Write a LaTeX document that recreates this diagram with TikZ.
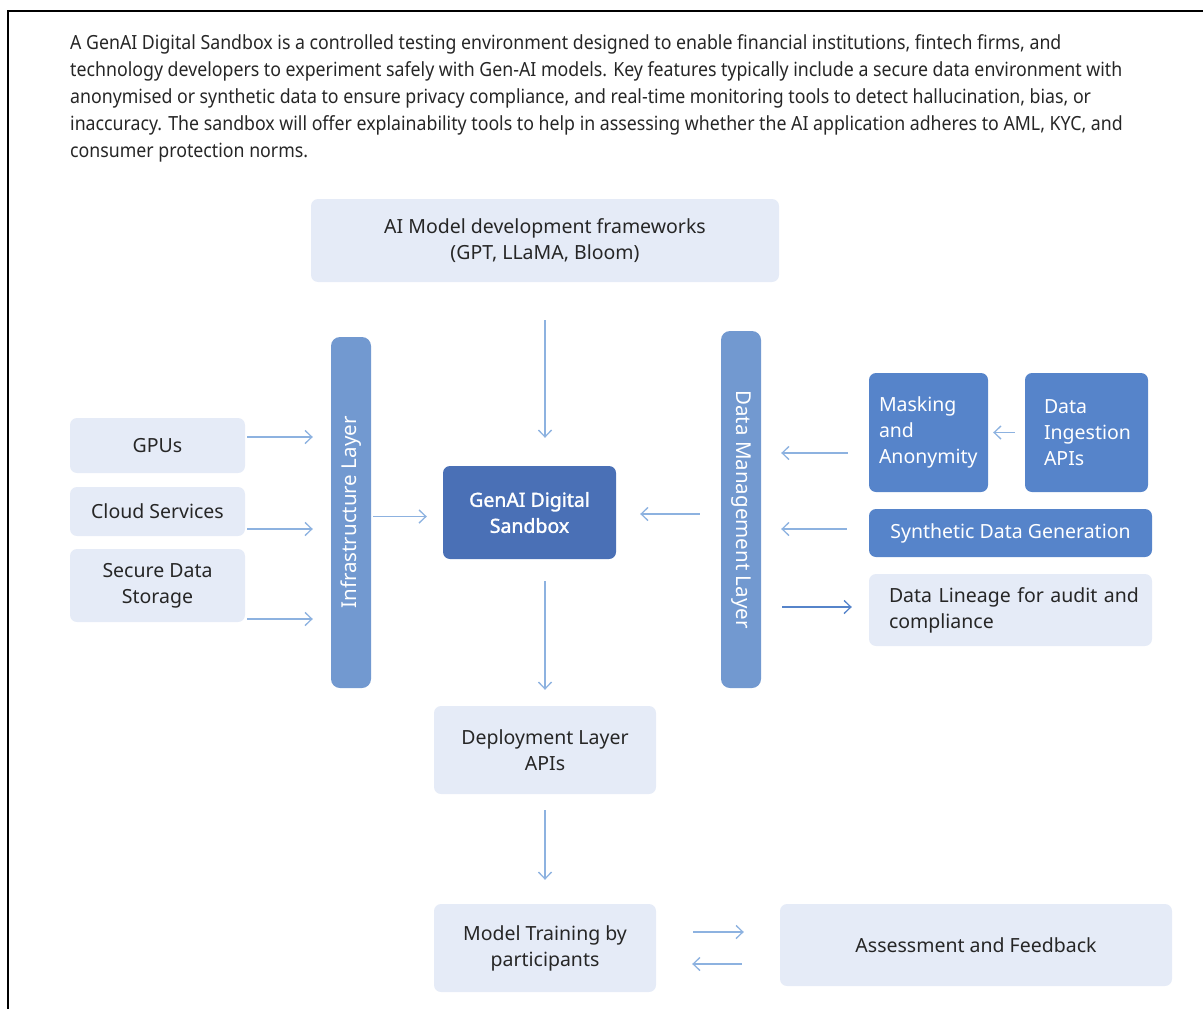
\documentclass[tikz,border=0pt]{standalone}
\usepackage{fontspec}
\setmainfont{Noto Sans}
\newfontfamily\introfont[FakeStretch=0.91]{Noto Sans}
\newfontfamily\corefont[FakeBold=1.6]{Noto Sans}
\usetikzlibrary{arrows.meta, positioning}
\tikzset{>={Straight Barb[length=2.4mm,width=4.6mm]}}

\definecolor{boxfill}{HTML}{E5EBF7}
\definecolor{layerblue}{HTML}{7299D0}
\definecolor{midblue}{HTML}{5684CA}
\definecolor{coreblue}{HTML}{4A70B6}
\definecolor{arrowblue}{HTML}{8DB2E0}
\definecolor{inkgrey}{HTML}{262626}

\begin{document}
\begin{tikzpicture}[
    x = 1pt, y = -1pt,
    every node/.style = {font=\fontsize{19.5}{26}\selectfont, inner sep=0pt},
    lbox/.style  = {fill=boxfill, rounded corners=7pt, align=center, text=inkgrey},
    mbox/.style  = {fill=midblue, rounded corners=7pt, text=white},
    layer/.style = {fill=layerblue, rounded corners=9pt, minimum width=40pt},
    layertext/.style = {text=white, font=\fontsize{20.5}{26}\selectfont},
    arr/.style   = {->, draw=arrowblue, line width=1.3pt}
  ]
  \useasboundingbox (0,0) rectangle (1203,1009);
  \draw[line width=2.6pt] (8,1009) -- (8,11) -- (1203,11);

  % intro text
  \foreach \ln [count=\i from 0] in {
      {A GenAI Digital Sandbox is a controlled testing environment designed to enable financial institutions, fintech firms, and},
      {technology developers to experiment safely with Gen-AI models. Key features typically include a secure data environment with},
      {anonymised or synthetic data to ensure privacy compliance, and real-time monitoring tools to detect hallucination, bias, or},
      {inaccuracy. The sandbox will offer explainability tools to help in assessing whether the AI application adheres to AML, KYC, and},
      {consumer protection norms.}}
    \node[anchor=base west, text=inkgrey, font=\fontsize{19.5}{26}\introfont] (intro\i) at (70, 49+27*\i) {\ln};

  % centre column
  \node[lbox, minimum width=468pt, minimum height=83pt] (aimodel) at (545,240.5)
    {AI Model development frameworks\\(GPT, LLaMA, Bloom)};
  \node[fill=coreblue, rounded corners=7pt, text=white, align=center,
        minimum width=173pt, minimum height=93pt,
        font=\fontsize{19.5}{26}\corefont] (genai) at (529.5,512.5)
    {GenAI Digital\\Sandbox};
  \node[lbox, minimum width=222pt, minimum height=88pt] (deploy) at (545,750)
    {Deployment Layer\\APIs};
  \node[lbox, minimum width=222pt, minimum height=88pt] (training) at (545,948)
    {Model Training by\\participants};
  \node[lbox, minimum width=392pt, minimum height=82pt] (assess) at (976,945)
    {Assessment and Feedback};

  % layers
  \node[layer, minimum height=351pt] (infra) at (351,512.5) {};
  \node[layertext, rotate=90] (infralabel) at (infra) {Infrastructure Layer};
  \node[layer, minimum height=357pt] (dml) at (741,509.5) {};
  \node[layertext, rotate=-90] (dmllabel) at (dml) {Data Management Layer};

  % left side
  \node[lbox, minimum width=175pt, minimum height=55pt] (gpu) at (157.5,445.5) {GPUs};
  \node[lbox, minimum width=175pt, minimum height=49pt] (cloud) at (157.5,511.5) {Cloud Services};
  \node[lbox, minimum width=175pt, minimum height=73pt] (storage) at (157.5,585.5)
    {Secure Data\\Storage};

  % right side
  \node[mbox, align=left, text width=99pt, inner xsep=10pt, minimum height=119pt]
    (masking) at (928.5,432.5) {Masking\\and\\Anonymity};
  \node[mbox, align=left, text width=85pt, inner xsep=19pt, minimum height=119pt]
    (ingest) at (1086.5,432.5) {Data\\Ingestion\\APIs};
  \node[mbox, minimum width=283pt, minimum height=48pt] (synth) at (1010.5,533)
    {Synthetic Data Generation};
  \node[lbox, align=left, text width=243pt, inner xsep=20pt, minimum height=72pt]
    (lineage) at (1010.5,610) {\mbox{Data Lineage for audit and}\\compliance};

  % arrows
  \draw[arr, shorten <=2pt, shorten >=18pt] ([yshift=8.5pt]gpu.east) -- ([yshift=8.5pt]gpu.east -| infra.west);
  \draw[arr, shorten <=2pt, shorten >=18pt] ([yshift=-17.5pt]cloud.east) -- ([yshift=-17.5pt]cloud.east -| infra.west);
  \draw[arr, shorten <=2pt, shorten >=18pt] ([yshift=-33.5pt]storage.east) -- ([yshift=-33.5pt]storage.east -| infra.west);
  \draw[arr, shorten <=2pt, shorten >=16pt] ([yshift=-4pt]infra.east) -- ([yshift=-4pt]infra.east -| genai.west);
  \draw[arr, shorten <=38pt, shorten >=28pt] (aimodel.south) -- (aimodel.south |- genai.north);
  \draw[arr, shorten <=21pt, shorten >=24pt] ([yshift=-4.5pt]dml.west) -- ([yshift=-4.5pt]dml.west -| genai.east);
  \draw[arr, shorten <=22pt, shorten >=16pt] (deploy.north |- genai.south) -- (deploy.north);
  \draw[arr, shorten <=16pt, shorten >=24pt] (deploy.south) -- (training.north);
  \draw[arr, shorten <=21pt, shorten >=20pt] ([yshift=-20.5pt]masking.west) -- ([yshift=-20.5pt]masking.west -| dml.east);
  \draw[arr, shorten <=22pt, shorten >=20pt] ([yshift=4pt]synth.west) -- ([yshift=4pt]synth.west -| dml.east);
  \draw[arr, draw=midblue, shorten <=21pt, shorten >=17pt] ([yshift=3pt]lineage.west -| dml.east) -- ([yshift=3pt]lineage.west);
  \draw[arr, shorten <=10pt, shorten >=5pt] (ingest.west) -- (masking.east);
  \draw[arr, shorten <=37pt, shorten >=36pt] ([yshift=16pt]training.east) -- ([yshift=16pt]training.east -| assess.west);
  \draw[arr, shorten <=38pt, shorten >=36pt] ([yshift=-16pt]training.east -| assess.west) -- ([yshift=-16pt]training.east);
\end{tikzpicture}
\end{document}
